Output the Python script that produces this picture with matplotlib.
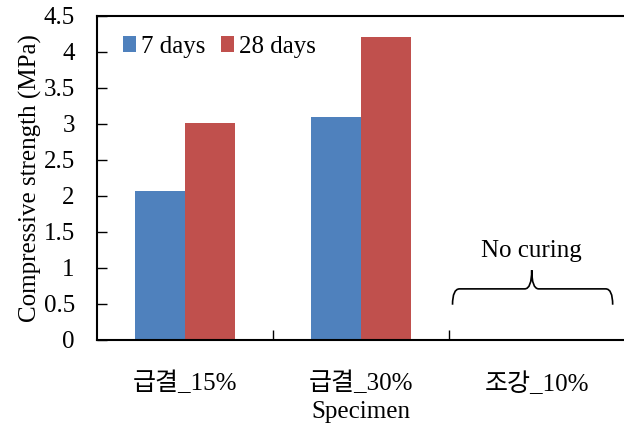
import matplotlib
matplotlib.use("Agg")
import matplotlib.pyplot as plt
import numpy as np
from matplotlib.path import Path
from matplotlib.patches import PathPatch

plt.rcParams['font.family'] = ['Liberation Serif', 'Noto Sans CJK KR']

# data
specimens = ["급결_15%", "급결_30%", "조강_10%"]
days_7 = [2.07, 3.10, np.nan]
days_28 = [3.01, 4.21, np.nan]
y_ticks = [0, 0.5, 1, 1.5, 2, 2.5, 3, 3.5, 4, 4.5]

fig = plt.figure(figsize=(6.24, 4.3), dpi=100)
ax = fig.add_axes([97 / 624, 90 / 430, 528 / 624, 324 / 430])

x = np.arange(len(specimens))
w = 50 / 176
ax.bar(x - w / 2, days_7, w, color="#4F81BD", label="7 days")
ax.bar(x + w / 2, days_28, w, color="#C0504D", label="28 days")

ax.set_xlim(-0.5, 2.5)
ax.set_ylim(0, 4.5)
ax.set_yticks(y_ticks)
ax.set_yticklabels([f"{v:g}" for v in y_ticks])
ax.set_xticks(x)
ax.set_xticklabels(specimens)
ax.set_xticks([0.5, 1.5], minor=True)
ax.tick_params(axis="x", which="major", length=0, labelsize=18, pad=23)
ax.tick_params(axis="x", which="minor", direction="in", length=7, width=1)
ax.tick_params(axis="y", direction="in", length=7, width=1, labelsize=18, pad=16)

for side in ["left", "bottom", "top"]:
    ax.spines[side].set_linewidth(1.5)
ax.spines["right"].set_visible(False)

ax.set_xlabel("Specimen", fontsize=18, labelpad=4)
ax.set_ylabel("Compressive strength (MPa)", fontsize=18, labelpad=1)

ax.legend(loc="upper left", bbox_to_anchor=(0.02, 0.985), ncol=2, frameon=False,
          fontsize=18, handlelength=0.55, handleheight=0.55, handletextpad=0.2,
          columnspacing=0.6, borderaxespad=0.2)

# "No curing" brace over the last specimen
x0, x1, xm = 1.52, 2.43, 1.97
yb, yl, yt = 0.49, 0.71, 0.97
r = 0.04
verts = [(x0, yb), (x0, yl), (x0 + r, yl),
         (xm - r, yl), (xm, yl), (xm, yt),
         (xm, yt), (xm, yl), (xm + r, yl),
         (x1 - r, yl), (x1, yl), (x1, yb)]
codes = [Path.MOVETO, Path.CURVE3, Path.CURVE3,
         Path.LINETO, Path.CURVE3, Path.CURVE3,
         Path.MOVETO, Path.CURVE3, Path.CURVE3,
         Path.LINETO, Path.CURVE3, Path.CURVE3]
ax.add_patch(PathPatch(Path(verts, codes), fill=False, lw=1.2, color="black"))
ax.text(xm, 1.23, "No curing", ha="center", va="center", fontsize=18)

fig.savefig("out.png", dpi=100)
